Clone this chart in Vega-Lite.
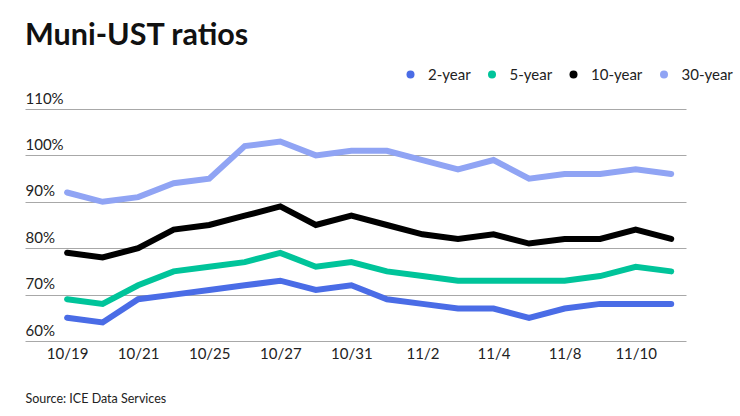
{
  "$schema": "https://vega.github.io/schema/vega-lite/v6.json",
  "width": 661,
  "height": 232,
  "autosize": {"type": "none"},
  "padding": {"left": 25, "top": 109, "right": 54, "bottom": 75},
  "background": "white",
  "title": {
    "text": "Muni-UST ratios",
    "anchor": "start",
    "frame": "group",
    "font": "Lato",
    "fontSize": 30.5,
    "fontWeight": "bold",
    "color": "#111111",
    "offset": 16
  },
  "data": {
    "values": [
      {"date": "10/19", "2-year": 65, "5-year": 69, "10-year": 79, "30-year": 92},
      {"date": "10/20", "2-year": 64, "5-year": 68, "10-year": 78, "30-year": 90},
      {"date": "10/21", "2-year": 69, "5-year": 72, "10-year": 80, "30-year": 91},
      {"date": "10/24", "2-year": 70, "5-year": 75, "10-year": 84, "30-year": 94},
      {"date": "10/25", "2-year": 71, "5-year": 76, "10-year": 85, "30-year": 95},
      {"date": "10/26", "2-year": 72, "5-year": 77, "10-year": 87, "30-year": 102},
      {"date": "10/27", "2-year": 73, "5-year": 79, "10-year": 89, "30-year": 103},
      {"date": "10/28", "2-year": 71, "5-year": 76, "10-year": 85, "30-year": 100},
      {"date": "10/31", "2-year": 72, "5-year": 77, "10-year": 87, "30-year": 101},
      {"date": "11/1", "2-year": 69, "5-year": 75, "10-year": 85, "30-year": 101},
      {"date": "11/2", "2-year": 68, "5-year": 74, "10-year": 83, "30-year": 99},
      {"date": "11/3", "2-year": 67, "5-year": 73, "10-year": 82, "30-year": 97},
      {"date": "11/4", "2-year": 67, "5-year": 73, "10-year": 83, "30-year": 99},
      {"date": "11/7", "2-year": 65, "5-year": 73, "10-year": 81, "30-year": 95},
      {"date": "11/8", "2-year": 67, "5-year": 73, "10-year": 82, "30-year": 96},
      {"date": "11/9", "2-year": 68, "5-year": 74, "10-year": 82, "30-year": 96},
      {"date": "11/10", "2-year": 68, "5-year": 76, "10-year": 84, "30-year": 97},
      {"date": "11/11", "2-year": 68, "5-year": 75, "10-year": 82, "30-year": 96}
    ]
  },
  "transform": [
    {"fold": ["2-year", "5-year", "10-year", "30-year"], "as": ["tenor", "ratio"]}
  ],
  "mark": {"type": "line", "strokeWidth": 6, "strokeCap": "round", "strokeJoin": "miter"},
  "encoding": {
    "x": {
      "field": "date",
      "type": "ordinal",
      "sort": null,
      "scale": {"type": "point", "padding": 0.8, "align": 0.74},
      "axis": {
        "title": "Source: ICE Data Services",
        "titleAnchor": "start",
        "titleAlign": "left",
        "titleBaseline": "alphabetic",
        "titleX": 0,
        "titleY": 61,
        "titleFont": "Lato",
        "titleFontSize": 12.5,
        "titleFontWeight": "normal",
        "titleColor": "#222222",
        "values": ["10/19", "10/21", "10/25", "10/27", "10/31", "11/2", "11/4", "11/8", "11/10"],
        "labelAngle": 0,
        "labelFont": "Lato",
        "labelFontSize": 15,
        "labelColor": "#222222",
        "labelPadding": 5,
        "ticks": false,
        "tickSize": 0,
        "domain": false,
        "grid": false
      }
    },
    "y": {
      "field": "ratio",
      "type": "quantitative",
      "scale": {"domain": [60, 110]},
      "axis": {
        "title": null,
        "values": [60, 70, 80, 90, 100, 110],
        "labelExpr": "datum.value + '%'",
        "labelAlign": "left",
        "labelBaseline": "bottom",
        "labelOffset": -3,
        "labelPadding": 0,
        "labelFont": "Lato",
        "labelFontSize": 15,
        "labelColor": "#222222",
        "ticks": false,
        "tickSize": 0,
        "domain": false,
        "grid": true,
        "gridColor": "#a8a8a8",
        "gridWidth": 1
      }
    },
    "color": {
      "field": "tenor",
      "type": "nominal",
      "scale": {
        "domain": ["2-year", "5-year", "10-year", "30-year"],
        "range": ["#4a6ce6", "#00c49a", "#000000", "#90a4f4"]
      },
      "legend": {
        "title": null,
        "orient": "none",
        "direction": "horizontal",
        "gridAlign": "none",
        "legendX": 378,
        "legendY": -42,
        "symbolType": "circle",
        "symbolSize": 64,
        "symbolStrokeWidth": 0,
        "labelFont": "Lato",
        "labelFontSize": 15,
        "labelColor": "#222222",
        "labelOffset": 10,
        "columnPadding": 13.5,
        "encode": {
          "symbols": {"update": {"fill": {"scale": "color", "field": "value"}, "opacity": {"value": 1}}}
        }
      }
    }
  },
  "config": {
    "view": {"stroke": null}
  }
}
